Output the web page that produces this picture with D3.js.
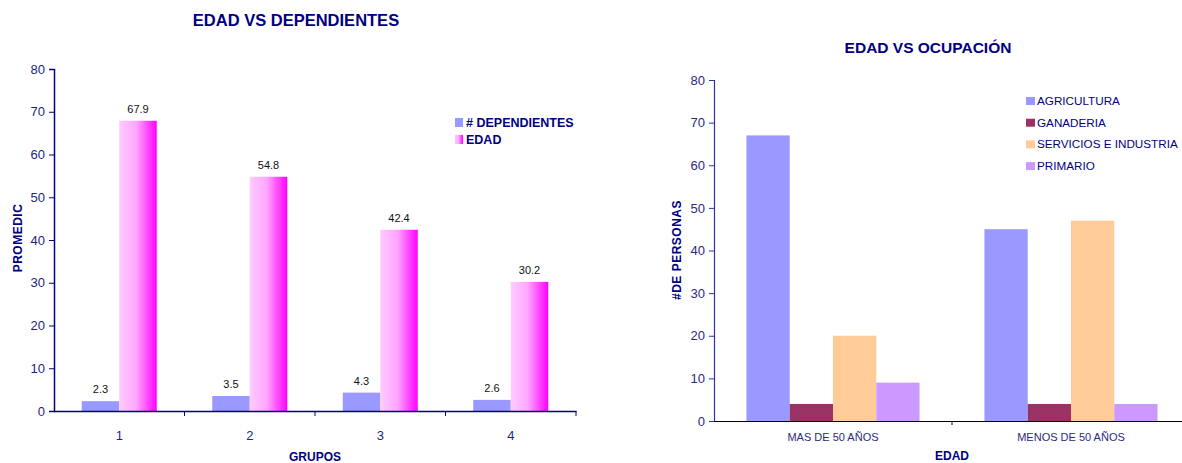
<!DOCTYPE html>
<html>
<head>
<meta charset="utf-8">
<script src="https://cdn.jsdelivr.net/npm/d3@7"></script>
<style>
  body { margin: 0; background: #fff; }
  text { font-family: "Liberation Sans", Arial, sans-serif; }
</style>
</head>
<body>
<svg id="chart" width="1182" height="463"></svg>
<script>
/* data - left chart */
var grupos = ["1", "2", "3", "4"]
var seriesLeft = ["# DEPENDIENTES", "EDAD"]
var dependientes = [2.3, 3.5, 4.3, 2.6]
var edad = [67.9, 54.8, 42.4, 30.2]
var ticksLeft = [0, 10, 20, 30, 40, 50, 60, 70, 80]

/* data - right chart */
var edades = ["MAS DE 50 AÑOS", "MENOS DE 50 AÑOS"]
var ocupaciones = ["AGRICULTURA", "GANADERIA", "SERVICIOS E INDUSTRIA", "PRIMARIO"]
var agricultura = [67, 45]
var ganaderia = [4, 4]
var servicios = [20, 47]
var primario = [9, 4]
var ticksRight = [0, 10, 20, 30, 40, 50, 60, 70, 80]

var navy = "#000080"
var tickCol = "#1f1f80"

var svg = d3.select("#chart")
var defs = svg.append("defs")
var grad = defs.append("linearGradient").attr("id", "pinkGrad")
  .attr("x1", "0%").attr("x2", "100%").attr("y1", "0%").attr("y2", "0%")
grad.append("stop").attr("offset", "0%").attr("stop-color", "#ffccff")
grad.append("stop").attr("offset", "45%").attr("stop-color", "#ffa6ff")
grad.append("stop").attr("offset", "100%").attr("stop-color", "#ff00ff")

/* ---------- left chart ---------- */
var left = svg.append("g")
var xL = d3.scaleBand().domain(grupos).range([54, 576]).padding(0)
var xL1 = d3.scaleBand().domain(seriesLeft).range([0, xL.bandwidth()]).paddingInner(0).paddingOuter(0.74)
var yL = d3.scaleLinear().domain([0, 80]).range([411, 69])
var leftColors = ["#9999ff", "url(#pinkGrad)"]

var leftRows = grupos.map(function(g, i) {
  return { grupo: g, vals: [dependientes[i], edad[i]] }
})

var gl = left.selectAll(".grp").data(leftRows).enter().append("g")
  .attr("transform", function(d) { return "translate(" + xL(d.grupo) + ",0)" })
gl.selectAll("rect").data(function(d) { return d.vals }).enter().append("rect")
  .attr("x", function(d, i) { return xL1(seriesLeft[i]) })
  .attr("width", xL1.bandwidth())
  .attr("y", function(d) { return yL(d) })
  .attr("height", function(d) { return yL(0) - yL(d) })
  .attr("fill", function(d, i) { return leftColors[i] })
gl.selectAll("text").data(function(d) { return d.vals }).enter().append("text")
  .attr("x", function(d, i) { return xL1(seriesLeft[i]) + xL1.bandwidth() / 2 })
  .attr("y", function(d) { return yL(d) - 8 })
  .attr("text-anchor", "middle")
  .style("font-size", "11px")
  .style("fill", "#111")
  .text(function(d) { return d3.format(".1f")(d) })

var yAxisL = left.append("g").attr("transform", "translate(54,0)")
  .call(d3.axisLeft(yL).tickValues(ticksLeft).tickSize(5).tickPadding(4))
yAxisL.select(".domain").attr("stroke", navy).attr("stroke-width", 1.5)
yAxisL.selectAll(".tick line").attr("stroke", navy)
yAxisL.selectAll("text").style("font-size", "13px").style("fill", tickCol).style("font-family", "Liberation Sans, Arial")

var xAxisL = left.append("g").attr("transform", "translate(0,411)")
  .call(d3.axisBottom(xL).tickSize(0).tickPadding(20))
xAxisL.select(".domain").attr("stroke", navy).attr("stroke-width", 1.5)
xAxisL.selectAll("text").style("font-size", "13px").style("fill", tickCol).style("font-family", "Liberation Sans, Arial")
left.selectAll(".sepL").data(grupos).enter().append("line")
  .attr("x1", function(d) { return xL(d) + xL.bandwidth() })
  .attr("x2", function(d) { return xL(d) + xL.bandwidth() })
  .attr("y1", 411).attr("y2", 416)
  .attr("stroke", navy)

left.append("text").attr("x", 296).attr("y", 26).attr("text-anchor", "middle")
  .style("font-size", "16.5px").style("font-weight", "bold").style("fill", navy)
  .text("EDAD VS DEPENDIENTES")
left.append("text").attr("x", 315).attr("y", 461).attr("text-anchor", "middle")
  .style("font-size", "12px").style("font-weight", "bold").style("fill", navy)
  .text("GRUPOS")
left.append("text").attr("transform", "translate(22,238) rotate(-90)").attr("text-anchor", "middle")
  .style("font-size", "12px").style("font-weight", "bold").style("fill", navy)
  .style("letter-spacing", "0.5px")
  .text("PROMEDIC")

var legL = left.selectAll(".legL").data(seriesLeft).enter().append("g")
  .attr("transform", function(d, i) { return "translate(455," + (118 + i * 17) + ")" })
legL.append("rect").attr("width", 8).attr("height", 9)
  .attr("fill", function(d, i) { return leftColors[i] })
legL.append("text").attr("x", 11).attr("y", 9)
  .style("font-size", "12.5px").style("font-weight", "bold").style("fill", navy)
  .text(function(d) { return d })

/* ---------- right chart ---------- */
var right = svg.append("g")
var xR = d3.scaleBand().domain(edades).range([714, 1190]).padding(0)
var xR1 = d3.scaleBand().domain(ocupaciones).range([0, xR.bandwidth()]).paddingInner(0).paddingOuter(0.75)
var yR = d3.scaleLinear().domain([0, 80]).range([421, 80])
var rightColors = ["#9999ff", "#993366", "#ffcc99", "#cc99ff"]
var rightSeries = [agricultura, ganaderia, servicios, primario]

var rightRows = edades.map(function(e, i) {
  return { edad: e, vals: rightSeries.map(function(s) { return s[i] }) }
})
var gr = right.selectAll(".grpR").data(rightRows).enter().append("g")
  .attr("transform", function(d) { return "translate(" + xR(d.edad) + ",0)" })
gr.selectAll("rect").data(function(d) { return d.vals }).enter().append("rect")
  .attr("x", function(d, i) { return xR1(ocupaciones[i]) })
  .attr("width", xR1.bandwidth())
  .attr("y", function(d) { return yR(d) })
  .attr("height", function(d) { return yR(0) - yR(d) })
  .attr("fill", function(d, i) { return rightColors[i] })

var yAxisR = right.append("g").attr("transform", "translate(714,0)")
  .call(d3.axisLeft(yR).tickValues(ticksRight).tickSize(5).tickPadding(4))
yAxisR.select(".domain").attr("stroke", "#333399").attr("stroke-width", 1.2)
yAxisR.selectAll(".tick line").attr("stroke", "#333399")
yAxisR.selectAll("text").style("font-size", "13px").style("fill", "#2a2a80").style("font-family", "Liberation Sans, Arial")

var xAxisR = right.append("g").attr("transform", "translate(0,421)")
  .call(d3.axisBottom(xR).tickSize(0).tickPadding(12))
xAxisR.select(".domain").attr("stroke", "#000").attr("stroke-width", 1.2)
xAxisR.selectAll("text").style("font-size", "11px").style("fill", "#2a2a80").style("font-family", "Liberation Sans, Arial")
right.append("line")
  .attr("x1", xR(edades[1])).attr("x2", xR(edades[1]))
  .attr("y1", 421).attr("y2", 425).attr("stroke", "#000")

right.append("text").attr("x", 928).attr("y", 53).attr("text-anchor", "middle")
  .style("font-size", "15.5px").style("font-weight", "bold").style("fill", navy)
  .text("EDAD VS OCUPACIÓN")
right.append("text").attr("x", 952).attr("y", 460).attr("text-anchor", "middle")
  .style("font-size", "12px").style("font-weight", "bold").style("fill", navy)
  .text("EDAD")
right.append("text").attr("transform", "translate(681,250) rotate(-90)").attr("text-anchor", "middle")
  .style("font-size", "12px").style("font-weight", "bold").style("fill", navy)
  .style("letter-spacing", "0.5px")
  .text("#DE PERSONAS")

var legR = right.selectAll(".legR").data(ocupaciones).enter().append("g")
  .attr("transform", function(d, i) { return "translate(1026," + (97 + i * 21.7) + ")" })
legR.append("rect").attr("width", 9).attr("height", 8)
  .attr("fill", function(d, i) { return rightColors[i] })
legR.append("text").attr("x", 11).attr("y", 8)
  .style("font-size", "11.7px").style("fill", navy)
  .text(function(d) { return d })
</script>
</body>
</html>
